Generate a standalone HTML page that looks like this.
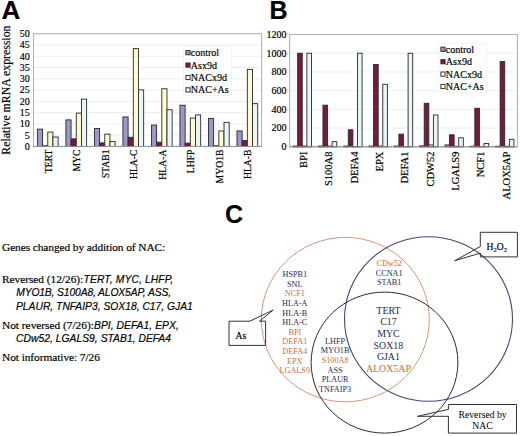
<!DOCTYPE html><html><head><meta charset="utf-8"><style>html,body{margin:0;padding:0;background:#fff;}svg{display:block;}</style></head><body>
<svg width="520" height="436" viewBox="0 0 520 436">
<rect width="520" height="436" fill="#fff"/>
<text stroke="#000" stroke-width="0.18" x="1.4" y="18.7" font-family='"Liberation Sans", sans-serif' font-weight="bold" font-size="26">A</text>
<text stroke="#000" stroke-width="0.18" x="269.6" y="18.7" font-family='"Liberation Sans", sans-serif' font-weight="bold" font-size="25">B</text>
<text stroke="#000" stroke-width="0.18" x="225" y="222.6" font-family='"Liberation Sans", sans-serif' font-weight="bold" font-size="25">C</text>
<line x1="33.5" y1="135.22" x2="261.6" y2="135.22" stroke="#ededed" stroke-width="1"/>
<line x1="33.5" y1="123.94" x2="261.6" y2="123.94" stroke="#ededed" stroke-width="1"/>
<line x1="33.5" y1="112.66" x2="261.6" y2="112.66" stroke="#ededed" stroke-width="1"/>
<line x1="33.5" y1="101.38" x2="261.6" y2="101.38" stroke="#ededed" stroke-width="1"/>
<line x1="33.5" y1="90.10" x2="261.6" y2="90.10" stroke="#ededed" stroke-width="1"/>
<line x1="33.5" y1="78.82" x2="261.6" y2="78.82" stroke="#ededed" stroke-width="1"/>
<line x1="33.5" y1="67.54" x2="261.6" y2="67.54" stroke="#ededed" stroke-width="1"/>
<line x1="33.5" y1="56.26" x2="261.6" y2="56.26" stroke="#ededed" stroke-width="1"/>
<line x1="33.5" y1="44.98" x2="261.6" y2="44.98" stroke="#ededed" stroke-width="1"/>
<line x1="33.5" y1="33.70" x2="261.6" y2="33.70" stroke="#ededed" stroke-width="1"/>
<rect x="33.5" y="33.7" width="228.10000000000002" height="112.8" fill="none" stroke="#b4b4b4" stroke-width="1.1"/>
<rect x="37.39" y="129.13" width="5.18" height="17.37" fill="#9a97cc" stroke="#2a2a2a" stroke-width="0.9"/>
<rect x="42.57" y="145.82" width="5.18" height="0.68" fill="#781a3e" stroke="#2a2a2a" stroke-width="0.9"/>
<rect x="47.76" y="132.06" width="5.18" height="14.44" fill="#fdf9d0" stroke="#2a2a2a" stroke-width="0.9"/>
<rect x="52.94" y="137.02" width="5.18" height="9.48" fill="#e6f6fb" stroke="#2a2a2a" stroke-width="0.9"/>
<rect x="65.90" y="119.88" width="5.18" height="26.62" fill="#9a97cc" stroke="#2a2a2a" stroke-width="0.9"/>
<rect x="71.08" y="138.83" width="5.18" height="7.67" fill="#781a3e" stroke="#2a2a2a" stroke-width="0.9"/>
<rect x="76.27" y="113.11" width="5.18" height="33.39" fill="#fdf9d0" stroke="#2a2a2a" stroke-width="0.9"/>
<rect x="81.45" y="99.12" width="5.18" height="47.38" fill="#e6f6fb" stroke="#2a2a2a" stroke-width="0.9"/>
<rect x="94.41" y="128.45" width="5.18" height="18.05" fill="#9a97cc" stroke="#2a2a2a" stroke-width="0.9"/>
<rect x="99.60" y="142.89" width="5.18" height="3.61" fill="#781a3e" stroke="#2a2a2a" stroke-width="0.9"/>
<rect x="104.78" y="134.09" width="5.18" height="12.41" fill="#fdf9d0" stroke="#2a2a2a" stroke-width="0.9"/>
<rect x="109.97" y="141.54" width="5.18" height="4.96" fill="#e6f6fb" stroke="#2a2a2a" stroke-width="0.9"/>
<rect x="122.93" y="116.95" width="5.18" height="29.55" fill="#9a97cc" stroke="#2a2a2a" stroke-width="0.9"/>
<rect x="128.11" y="137.25" width="5.18" height="9.25" fill="#781a3e" stroke="#2a2a2a" stroke-width="0.9"/>
<rect x="133.29" y="48.59" width="5.18" height="97.91" fill="#fdf9d0" stroke="#2a2a2a" stroke-width="0.9"/>
<rect x="138.48" y="89.87" width="5.18" height="56.63" fill="#e6f6fb" stroke="#2a2a2a" stroke-width="0.9"/>
<rect x="151.44" y="125.07" width="5.18" height="21.43" fill="#9a97cc" stroke="#2a2a2a" stroke-width="0.9"/>
<rect x="156.62" y="142.21" width="5.18" height="4.29" fill="#781a3e" stroke="#2a2a2a" stroke-width="0.9"/>
<rect x="161.81" y="88.75" width="5.18" height="57.75" fill="#fdf9d0" stroke="#2a2a2a" stroke-width="0.9"/>
<rect x="166.99" y="109.73" width="5.18" height="36.77" fill="#e6f6fb" stroke="#2a2a2a" stroke-width="0.9"/>
<rect x="179.95" y="105.22" width="5.18" height="41.28" fill="#9a97cc" stroke="#2a2a2a" stroke-width="0.9"/>
<rect x="185.13" y="143.12" width="5.18" height="3.38" fill="#781a3e" stroke="#2a2a2a" stroke-width="0.9"/>
<rect x="190.32" y="118.07" width="5.18" height="28.43" fill="#fdf9d0" stroke="#2a2a2a" stroke-width="0.9"/>
<rect x="195.50" y="114.92" width="5.18" height="31.58" fill="#e6f6fb" stroke="#2a2a2a" stroke-width="0.9"/>
<rect x="208.46" y="118.53" width="5.18" height="27.97" fill="#9a97cc" stroke="#2a2a2a" stroke-width="0.9"/>
<rect x="213.65" y="145.82" width="5.18" height="0.68" fill="#781a3e" stroke="#2a2a2a" stroke-width="0.9"/>
<rect x="218.83" y="130.93" width="5.18" height="15.57" fill="#fdf9d0" stroke="#2a2a2a" stroke-width="0.9"/>
<rect x="224.02" y="122.36" width="5.18" height="24.14" fill="#e6f6fb" stroke="#2a2a2a" stroke-width="0.9"/>
<rect x="236.98" y="130.93" width="5.18" height="15.57" fill="#9a97cc" stroke="#2a2a2a" stroke-width="0.9"/>
<rect x="242.16" y="140.63" width="5.18" height="5.87" fill="#781a3e" stroke="#2a2a2a" stroke-width="0.9"/>
<rect x="247.34" y="69.34" width="5.18" height="77.16" fill="#fdf9d0" stroke="#2a2a2a" stroke-width="0.9"/>
<rect x="252.53" y="103.64" width="5.18" height="42.86" fill="#e6f6fb" stroke="#2a2a2a" stroke-width="0.9"/>
<line x1="33.5" y1="146.5" x2="261.6" y2="146.5" stroke="#909090" stroke-width="1"/>
<text stroke="#000" stroke-width="0.18" x="29.8" y="149.80" text-anchor="end" font-family='"Liberation Serif", serif' font-size="10">0</text>
<text stroke="#000" stroke-width="0.18" x="29.8" y="138.52" text-anchor="end" font-family='"Liberation Serif", serif' font-size="10">5</text>
<text stroke="#000" stroke-width="0.18" x="29.8" y="127.24" text-anchor="end" font-family='"Liberation Serif", serif' font-size="10">10</text>
<text stroke="#000" stroke-width="0.18" x="29.8" y="115.96" text-anchor="end" font-family='"Liberation Serif", serif' font-size="10">15</text>
<text stroke="#000" stroke-width="0.18" x="29.8" y="104.68" text-anchor="end" font-family='"Liberation Serif", serif' font-size="10">20</text>
<text stroke="#000" stroke-width="0.18" x="29.8" y="93.40" text-anchor="end" font-family='"Liberation Serif", serif' font-size="10">25</text>
<text stroke="#000" stroke-width="0.18" x="29.8" y="82.12" text-anchor="end" font-family='"Liberation Serif", serif' font-size="10">30</text>
<text stroke="#000" stroke-width="0.18" x="29.8" y="70.84" text-anchor="end" font-family='"Liberation Serif", serif' font-size="10">35</text>
<text stroke="#000" stroke-width="0.18" x="29.8" y="59.56" text-anchor="end" font-family='"Liberation Serif", serif' font-size="10">40</text>
<text stroke="#000" stroke-width="0.18" x="29.8" y="48.28" text-anchor="end" font-family='"Liberation Serif", serif' font-size="10">45</text>
<text stroke="#000" stroke-width="0.18" x="29.8" y="37.00" text-anchor="end" font-family='"Liberation Serif", serif' font-size="10">50</text>
<text stroke="#000" stroke-width="0.18" transform="translate(51.76,149.5) rotate(-90)" text-anchor="end" font-family='"Liberation Serif", serif' font-size="9.7">TERT</text>
<text stroke="#000" stroke-width="0.18" transform="translate(80.27,149.5) rotate(-90)" text-anchor="end" font-family='"Liberation Serif", serif' font-size="9.7">MYC</text>
<text stroke="#000" stroke-width="0.18" transform="translate(108.78,149.5) rotate(-90)" text-anchor="end" font-family='"Liberation Serif", serif' font-size="9.7">STAB1</text>
<text stroke="#000" stroke-width="0.18" transform="translate(137.29,149.5) rotate(-90)" text-anchor="end" font-family='"Liberation Serif", serif' font-size="9.7">HLA-C</text>
<text stroke="#000" stroke-width="0.18" transform="translate(165.81,149.5) rotate(-90)" text-anchor="end" font-family='"Liberation Serif", serif' font-size="9.7">HLA-A</text>
<text stroke="#000" stroke-width="0.18" transform="translate(194.32,149.5) rotate(-90)" text-anchor="end" font-family='"Liberation Serif", serif' font-size="9.7">LHFP</text>
<text stroke="#000" stroke-width="0.18" transform="translate(222.83,149.5) rotate(-90)" text-anchor="end" font-family='"Liberation Serif", serif' font-size="9.7">MYO1B</text>
<text stroke="#000" stroke-width="0.18" transform="translate(251.34,149.5) rotate(-90)" text-anchor="end" font-family='"Liberation Serif", serif' font-size="9.7">HLA-B</text>
<rect x="183.6" y="46.6" width="47.7" height="48.8" fill="#fff" stroke="#f0f0f0" stroke-width="0.8"/>
<rect x="185.9" y="50.6" width="4.2" height="4.2" fill="#9a97cc" stroke="#333" stroke-width="1"/>
<text stroke="#000" stroke-width="0.18" x="190.79999999999998" y="56.20" font-family='"Liberation Serif", serif' font-size="10">control</text>
<rect x="185.9" y="63.00000000000001" width="4.2" height="4.2" fill="#781a3e" stroke="#333" stroke-width="1"/>
<text stroke="#000" stroke-width="0.18" x="190.79999999999998" y="68.60" font-family='"Liberation Serif", serif' font-size="10">Asx9d</text>
<rect x="185.9" y="75.4" width="4.2" height="4.2" fill="#ffffff" stroke="#333" stroke-width="1"/>
<text stroke="#000" stroke-width="0.18" x="190.79999999999998" y="81.00" font-family='"Liberation Serif", serif' font-size="10">NACx9d</text>
<rect x="185.9" y="87.80000000000001" width="4.2" height="4.2" fill="#f6fbfd" stroke="#333" stroke-width="1"/>
<text stroke="#000" stroke-width="0.18" x="190.79999999999998" y="93.40" font-family='"Liberation Serif", serif' font-size="10">NAC+As</text>
<text stroke="#000" stroke-width="0.18" transform="translate(10.2,90.1) rotate(-90)" text-anchor="middle" font-family='"Liberation Serif", serif' font-size="11.8">Relative mRNA expression</text>
<line x1="289.6" y1="128.08" x2="517.4" y2="128.08" stroke="#ededed" stroke-width="1"/>
<line x1="289.6" y1="109.37" x2="517.4" y2="109.37" stroke="#ededed" stroke-width="1"/>
<line x1="289.6" y1="90.65" x2="517.4" y2="90.65" stroke="#ededed" stroke-width="1"/>
<line x1="289.6" y1="71.93" x2="517.4" y2="71.93" stroke="#ededed" stroke-width="1"/>
<line x1="289.6" y1="53.22" x2="517.4" y2="53.22" stroke="#ededed" stroke-width="1"/>
<line x1="289.6" y1="34.50" x2="517.4" y2="34.50" stroke="#ededed" stroke-width="1"/>
<rect x="289.6" y="34.5" width="227.79999999999995" height="112.30000000000001" fill="none" stroke="#b4b4b4" stroke-width="1.1"/>
<rect x="293.05" y="146.05" width="4.60" height="0.75" fill="#9a97cc" stroke="#2a2a2a" stroke-width="0.9"/>
<rect x="297.65" y="53.22" width="4.60" height="93.58" fill="#781a3e" stroke="#2a2a2a" stroke-width="0.9"/>
<rect x="302.26" y="146.05" width="4.60" height="0.75" fill="#fdf9d0" stroke="#2a2a2a" stroke-width="0.9"/>
<rect x="306.86" y="53.22" width="4.60" height="93.58" fill="#e6f6fb" stroke="#2a2a2a" stroke-width="0.9"/>
<rect x="318.36" y="146.05" width="4.60" height="0.75" fill="#9a97cc" stroke="#2a2a2a" stroke-width="0.9"/>
<rect x="322.96" y="105.16" width="4.60" height="41.64" fill="#781a3e" stroke="#2a2a2a" stroke-width="0.9"/>
<rect x="327.57" y="146.05" width="4.60" height="0.75" fill="#fdf9d0" stroke="#2a2a2a" stroke-width="0.9"/>
<rect x="332.17" y="141.65" width="4.60" height="5.15" fill="#e6f6fb" stroke="#2a2a2a" stroke-width="0.9"/>
<rect x="343.67" y="146.05" width="4.60" height="0.75" fill="#9a97cc" stroke="#2a2a2a" stroke-width="0.9"/>
<rect x="348.28" y="129.77" width="4.60" height="17.03" fill="#781a3e" stroke="#2a2a2a" stroke-width="0.9"/>
<rect x="352.88" y="146.61" width="4.60" height="0.19" fill="#fdf9d0" stroke="#2a2a2a" stroke-width="0.9"/>
<rect x="357.48" y="53.22" width="4.60" height="93.58" fill="#e6f6fb" stroke="#2a2a2a" stroke-width="0.9"/>
<rect x="368.98" y="146.05" width="4.60" height="0.75" fill="#9a97cc" stroke="#2a2a2a" stroke-width="0.9"/>
<rect x="373.59" y="64.45" width="4.60" height="82.35" fill="#781a3e" stroke="#2a2a2a" stroke-width="0.9"/>
<rect x="378.19" y="146.05" width="4.60" height="0.75" fill="#fdf9d0" stroke="#2a2a2a" stroke-width="0.9"/>
<rect x="382.79" y="84.29" width="4.60" height="62.51" fill="#e6f6fb" stroke="#2a2a2a" stroke-width="0.9"/>
<rect x="394.30" y="146.05" width="4.60" height="0.75" fill="#9a97cc" stroke="#2a2a2a" stroke-width="0.9"/>
<rect x="398.90" y="134.17" width="4.60" height="12.63" fill="#781a3e" stroke="#2a2a2a" stroke-width="0.9"/>
<rect x="403.50" y="146.61" width="4.60" height="0.19" fill="#fdf9d0" stroke="#2a2a2a" stroke-width="0.9"/>
<rect x="408.10" y="53.22" width="4.60" height="93.58" fill="#e6f6fb" stroke="#2a2a2a" stroke-width="0.9"/>
<rect x="419.61" y="145.86" width="4.60" height="0.94" fill="#9a97cc" stroke="#2a2a2a" stroke-width="0.9"/>
<rect x="424.21" y="103.28" width="4.60" height="43.52" fill="#781a3e" stroke="#2a2a2a" stroke-width="0.9"/>
<rect x="428.81" y="144.93" width="4.60" height="1.87" fill="#fdf9d0" stroke="#2a2a2a" stroke-width="0.9"/>
<rect x="433.41" y="114.98" width="4.60" height="31.82" fill="#e6f6fb" stroke="#2a2a2a" stroke-width="0.9"/>
<rect x="444.92" y="144.93" width="4.60" height="1.87" fill="#9a97cc" stroke="#2a2a2a" stroke-width="0.9"/>
<rect x="449.52" y="134.82" width="4.60" height="11.98" fill="#781a3e" stroke="#2a2a2a" stroke-width="0.9"/>
<rect x="454.12" y="146.24" width="4.60" height="0.56" fill="#fdf9d0" stroke="#2a2a2a" stroke-width="0.9"/>
<rect x="458.72" y="137.72" width="4.60" height="9.08" fill="#e6f6fb" stroke="#2a2a2a" stroke-width="0.9"/>
<rect x="470.23" y="146.24" width="4.60" height="0.56" fill="#9a97cc" stroke="#2a2a2a" stroke-width="0.9"/>
<rect x="474.83" y="108.24" width="4.60" height="38.56" fill="#781a3e" stroke="#2a2a2a" stroke-width="0.9"/>
<rect x="479.43" y="146.61" width="4.60" height="0.19" fill="#fdf9d0" stroke="#2a2a2a" stroke-width="0.9"/>
<rect x="484.04" y="143.52" width="4.60" height="3.28" fill="#e6f6fb" stroke="#2a2a2a" stroke-width="0.9"/>
<rect x="495.54" y="146.24" width="4.60" height="0.56" fill="#9a97cc" stroke="#2a2a2a" stroke-width="0.9"/>
<rect x="500.14" y="61.55" width="4.60" height="85.25" fill="#781a3e" stroke="#2a2a2a" stroke-width="0.9"/>
<rect x="504.74" y="146.24" width="4.60" height="0.56" fill="#fdf9d0" stroke="#2a2a2a" stroke-width="0.9"/>
<rect x="509.35" y="139.31" width="4.60" height="7.49" fill="#e6f6fb" stroke="#2a2a2a" stroke-width="0.9"/>
<line x1="289.6" y1="146.8" x2="517.4" y2="146.8" stroke="#909090" stroke-width="1"/>
<text stroke="#000" stroke-width="0.18" x="286.6" y="150.10" text-anchor="end" font-family='"Liberation Serif", serif' font-size="10">0</text>
<text stroke="#000" stroke-width="0.18" x="286.6" y="131.38" text-anchor="end" font-family='"Liberation Serif", serif' font-size="10">200</text>
<text stroke="#000" stroke-width="0.18" x="286.6" y="112.67" text-anchor="end" font-family='"Liberation Serif", serif' font-size="10">400</text>
<text stroke="#000" stroke-width="0.18" x="286.6" y="93.95" text-anchor="end" font-family='"Liberation Serif", serif' font-size="10">600</text>
<text stroke="#000" stroke-width="0.18" x="286.6" y="75.23" text-anchor="end" font-family='"Liberation Serif", serif' font-size="10">800</text>
<text stroke="#000" stroke-width="0.18" x="286.6" y="56.52" text-anchor="end" font-family='"Liberation Serif", serif' font-size="10">1000</text>
<text stroke="#000" stroke-width="0.18" x="286.6" y="37.80" text-anchor="end" font-family='"Liberation Serif", serif' font-size="10">1200</text>
<text stroke="#000" stroke-width="0.18" transform="translate(307.16,151.6) rotate(-90)" text-anchor="end" font-family='"Liberation Serif", serif' font-size="10.5">BPI</text>
<text stroke="#000" stroke-width="0.18" transform="translate(332.47,151.6) rotate(-90)" text-anchor="end" font-family='"Liberation Serif", serif' font-size="10.5">S100A8</text>
<text stroke="#000" stroke-width="0.18" transform="translate(357.78,151.6) rotate(-90)" text-anchor="end" font-family='"Liberation Serif", serif' font-size="10.5">DEFA4</text>
<text stroke="#000" stroke-width="0.18" transform="translate(383.09,151.6) rotate(-90)" text-anchor="end" font-family='"Liberation Serif", serif' font-size="10.5">EPX</text>
<text stroke="#000" stroke-width="0.18" transform="translate(408.40,151.6) rotate(-90)" text-anchor="end" font-family='"Liberation Serif", serif' font-size="10.5">DEFA1</text>
<text stroke="#000" stroke-width="0.18" transform="translate(433.71,151.6) rotate(-90)" text-anchor="end" font-family='"Liberation Serif", serif' font-size="10.5">CDW52</text>
<text stroke="#000" stroke-width="0.18" transform="translate(459.02,151.6) rotate(-90)" text-anchor="end" font-family='"Liberation Serif", serif' font-size="10.5">LGALS9</text>
<text stroke="#000" stroke-width="0.18" transform="translate(484.33,151.6) rotate(-90)" text-anchor="end" font-family='"Liberation Serif", serif' font-size="10.5">NCF1</text>
<text stroke="#000" stroke-width="0.18" transform="translate(509.64,151.6) rotate(-90)" text-anchor="end" font-family='"Liberation Serif", serif' font-size="10.5">ALOX5AP</text>
<rect x="438.6" y="43.2" width="47.7" height="48.8" fill="#fff" stroke="#f0f0f0" stroke-width="0.8"/>
<rect x="440.90000000000003" y="47.2" width="4.2" height="4.2" fill="#9a97cc" stroke="#333" stroke-width="1"/>
<text stroke="#000" stroke-width="0.18" x="445.8" y="52.80" font-family='"Liberation Serif", serif' font-size="10">control</text>
<rect x="440.90000000000003" y="59.6" width="4.2" height="4.2" fill="#781a3e" stroke="#333" stroke-width="1"/>
<text stroke="#000" stroke-width="0.18" x="445.8" y="65.20" font-family='"Liberation Serif", serif' font-size="10">Asx9d</text>
<rect x="440.90000000000003" y="72.00000000000001" width="4.2" height="4.2" fill="#ffffff" stroke="#333" stroke-width="1"/>
<text stroke="#000" stroke-width="0.18" x="445.8" y="77.60" font-family='"Liberation Serif", serif' font-size="10">NACx9d</text>
<rect x="440.90000000000003" y="84.4" width="4.2" height="4.2" fill="#f6fbfd" stroke="#333" stroke-width="1"/>
<text stroke="#000" stroke-width="0.18" x="445.8" y="90.00" font-family='"Liberation Serif", serif' font-size="10">NAC+As</text>
<text stroke="#000" stroke-width="0.18" x="2" y="251.3" font-family='"Liberation Serif", serif' font-size="11.4" textLength="163.2" lengthAdjust="spacing">Genes changed by addition of NAC:</text>
<text stroke="#000" stroke-width="0.18" x="2" y="283.2" font-family='"Liberation Serif", serif' font-size="11.4" textLength="81.2" lengthAdjust="spacing">Reversed (12/26):</text>
<text stroke="#000" stroke-width="0.18" x="83.6" y="283.2" font-family='"Liberation Sans", sans-serif' font-style="italic" font-size="10.3" textLength="89.6" lengthAdjust="spacing">TERT, MYC, LHFP,</text>
<text stroke="#000" stroke-width="0.18" x="16.2" y="296.4" font-family='"Liberation Sans", sans-serif' font-style="italic" font-size="10.3" textLength="154.8" lengthAdjust="spacing">MYO1B, S100A8, ALOX5AP, ASS,</text>
<text stroke="#000" stroke-width="0.18" x="16.0" y="309.5" font-family='"Liberation Sans", sans-serif' font-style="italic" font-size="10.3" textLength="176.8" lengthAdjust="spacing">PLAUR, TNFAIP3, SOX18, C17, GJA1</text>
<text stroke="#000" stroke-width="0.18" x="2" y="328.9" font-family='"Liberation Serif", serif' font-size="11.4" textLength="91.9" lengthAdjust="spacing">Not reversed (7/26):</text>
<text stroke="#000" stroke-width="0.18" x="94.0" y="328.9" font-family='"Liberation Sans", sans-serif' font-style="italic" font-size="10.3" textLength="84.8" lengthAdjust="spacing">BPI, DEFA1, EPX,</text>
<text stroke="#000" stroke-width="0.18" x="16.0" y="341.9" font-family='"Liberation Sans", sans-serif' font-style="italic" font-size="10.3" textLength="155.0" lengthAdjust="spacing">CDw52, LGALS9, STAB1, DEFA4</text>
<text stroke="#000" stroke-width="0.18" x="2" y="360.6" font-family='"Liberation Serif", serif' font-size="11.4" textLength="97.9" lengthAdjust="spacing">Not informative: 7/26</text>
<ellipse cx="345.3" cy="319.6" rx="84" ry="82.2" fill="none" stroke="#de9474" stroke-width="1"/>
<ellipse cx="428.5" cy="319" rx="84" ry="82.2" fill="none" stroke="#45477e" stroke-width="1.1"/>
<ellipse cx="384.5" cy="362.6" rx="73.4" ry="70.5" fill="none" stroke="#2a2a3a" stroke-width="1"/>
<text x="294.8" y="277.00" text-anchor="middle" font-family='"Liberation Serif", serif' font-size="8.2" fill="#262a58">HSPB1</text>
<text x="294.8" y="286.63" text-anchor="middle" font-family='"Liberation Serif", serif' font-size="8.2" fill="#262a58">SNL</text>
<text x="294.8" y="296.26" text-anchor="middle" font-family='"Liberation Serif", serif' font-size="8.2" fill="#cf6a3e">NCF1</text>
<text x="294.8" y="305.89" text-anchor="middle" font-family='"Liberation Serif", serif' font-size="8.2" fill="#262a58">HLA-A</text>
<text x="294.8" y="315.52" text-anchor="middle" font-family='"Liberation Serif", serif' font-size="8.2" fill="#262a58">HLA-B</text>
<text x="294.8" y="325.15" text-anchor="middle" font-family='"Liberation Serif", serif' font-size="8.2" fill="#262a58">HLA-C</text>
<text x="294.8" y="334.78" text-anchor="middle" font-family='"Liberation Serif", serif' font-size="8.2" fill="#cf6a3e">BPI</text>
<text x="294.8" y="344.41" text-anchor="middle" font-family='"Liberation Serif", serif' font-size="8.2" fill="#cf6a3e">DEFA1</text>
<text x="294.8" y="354.04" text-anchor="middle" font-family='"Liberation Serif", serif' font-size="8.2" fill="#cf6a3e">DEFA4</text>
<text x="294.8" y="363.67" text-anchor="middle" font-family='"Liberation Serif", serif' font-size="8.2" fill="#cf6a3e">EPX</text>
<text x="294.8" y="373.30" text-anchor="middle" font-family='"Liberation Serif", serif' font-size="8.2" fill="#cf6a3e">LGALS9</text>
<text x="389.2" y="266.10" text-anchor="middle" font-family='"Liberation Serif", serif' font-size="8.2" fill="#cf6a3e">CDw52</text>
<text x="389.2" y="275.70" text-anchor="middle" font-family='"Liberation Serif", serif' font-size="8.2" fill="#262a58">CCNA1</text>
<text x="389.2" y="285.30" text-anchor="middle" font-family='"Liberation Serif", serif' font-size="8.2" fill="#262a58">STAB1</text>
<text x="388.4" y="313.60" text-anchor="middle" font-family='"Liberation Serif", serif' font-size="9.9" fill="#262a58">TERT</text>
<text x="388.4" y="325.25" text-anchor="middle" font-family='"Liberation Serif", serif' font-size="9.9" fill="#262a58">C17</text>
<text x="388.4" y="336.90" text-anchor="middle" font-family='"Liberation Serif", serif' font-size="9.9" fill="#262a58">MYC</text>
<text x="388.4" y="348.55" text-anchor="middle" font-family='"Liberation Serif", serif' font-size="9.9" fill="#262a58">SOX18</text>
<text x="388.4" y="360.20" text-anchor="middle" font-family='"Liberation Serif", serif' font-size="9.9" fill="#262a58">GJA1</text>
<text x="388.4" y="371.85" text-anchor="middle" font-family='"Liberation Serif", serif' font-size="9.9" fill="#cf6a3e">ALOX5AP</text>
<text x="335.1" y="343.80" text-anchor="middle" font-family='"Liberation Serif", serif' font-size="8.2" fill="#262a58">LHFP</text>
<text x="335.1" y="353.40" text-anchor="middle" font-family='"Liberation Serif", serif' font-size="8.2" fill="#262a58">MYO1B</text>
<text x="335.1" y="363.00" text-anchor="middle" font-family='"Liberation Serif", serif' font-size="8.2" fill="#cf6a3e">S100A8</text>
<text x="335.1" y="372.60" text-anchor="middle" font-family='"Liberation Serif", serif' font-size="8.2" fill="#262a58">ASS</text>
<text x="335.1" y="382.20" text-anchor="middle" font-family='"Liberation Serif", serif' font-size="8.2" fill="#262a58">PLAUR</text>
<text x="335.1" y="391.80" text-anchor="middle" font-family='"Liberation Serif", serif' font-size="8.2" fill="#262a58">TNFAIP3</text>
<path d="M249.9,321.2 L229,321.2 L229,345.4 L265.6,345.4 L265.6,321.2 L259.5,321.2 L273.2,310 Z" fill="none" stroke="#333" stroke-width="1" stroke-linejoin="miter"/>
<text stroke="#000" stroke-width="0.18" x="235.6" y="338.5" font-family='"Liberation Serif", serif' font-size="9.6">As</text>
<path d="M480.3,246.5 L480.3,232.3 L517.4,232.3 L517.4,256.9 L480.3,256.9 L480.3,253.1 L454.6,260.8 Z" fill="none" stroke="#333" stroke-width="1"/>
<text stroke="#000" stroke-width="0.18" x="486.5" y="249.5" font-family='"Liberation Serif", serif' font-size="9.6">H<tspan font-size="6.5" dy="2">2</tspan><tspan dy="-2">O</tspan><tspan font-size="6.5" dy="2">2</tspan></text>
<path d="M448.4,409.4 L448.4,404.5 L516.5,404.5 L516.5,433.1 L448.4,433.1 L448.4,416.3 L417.5,416.3 Z" fill="none" stroke="#333" stroke-width="1"/>
<text x="482.6" y="417.7" text-anchor="middle" font-family='"Liberation Serif", serif' font-size="9.7">Reversed by</text>
<text x="482.6" y="429.1" text-anchor="middle" font-family='"Liberation Serif", serif' font-size="9.7">NAC</text>
</svg></body></html>
